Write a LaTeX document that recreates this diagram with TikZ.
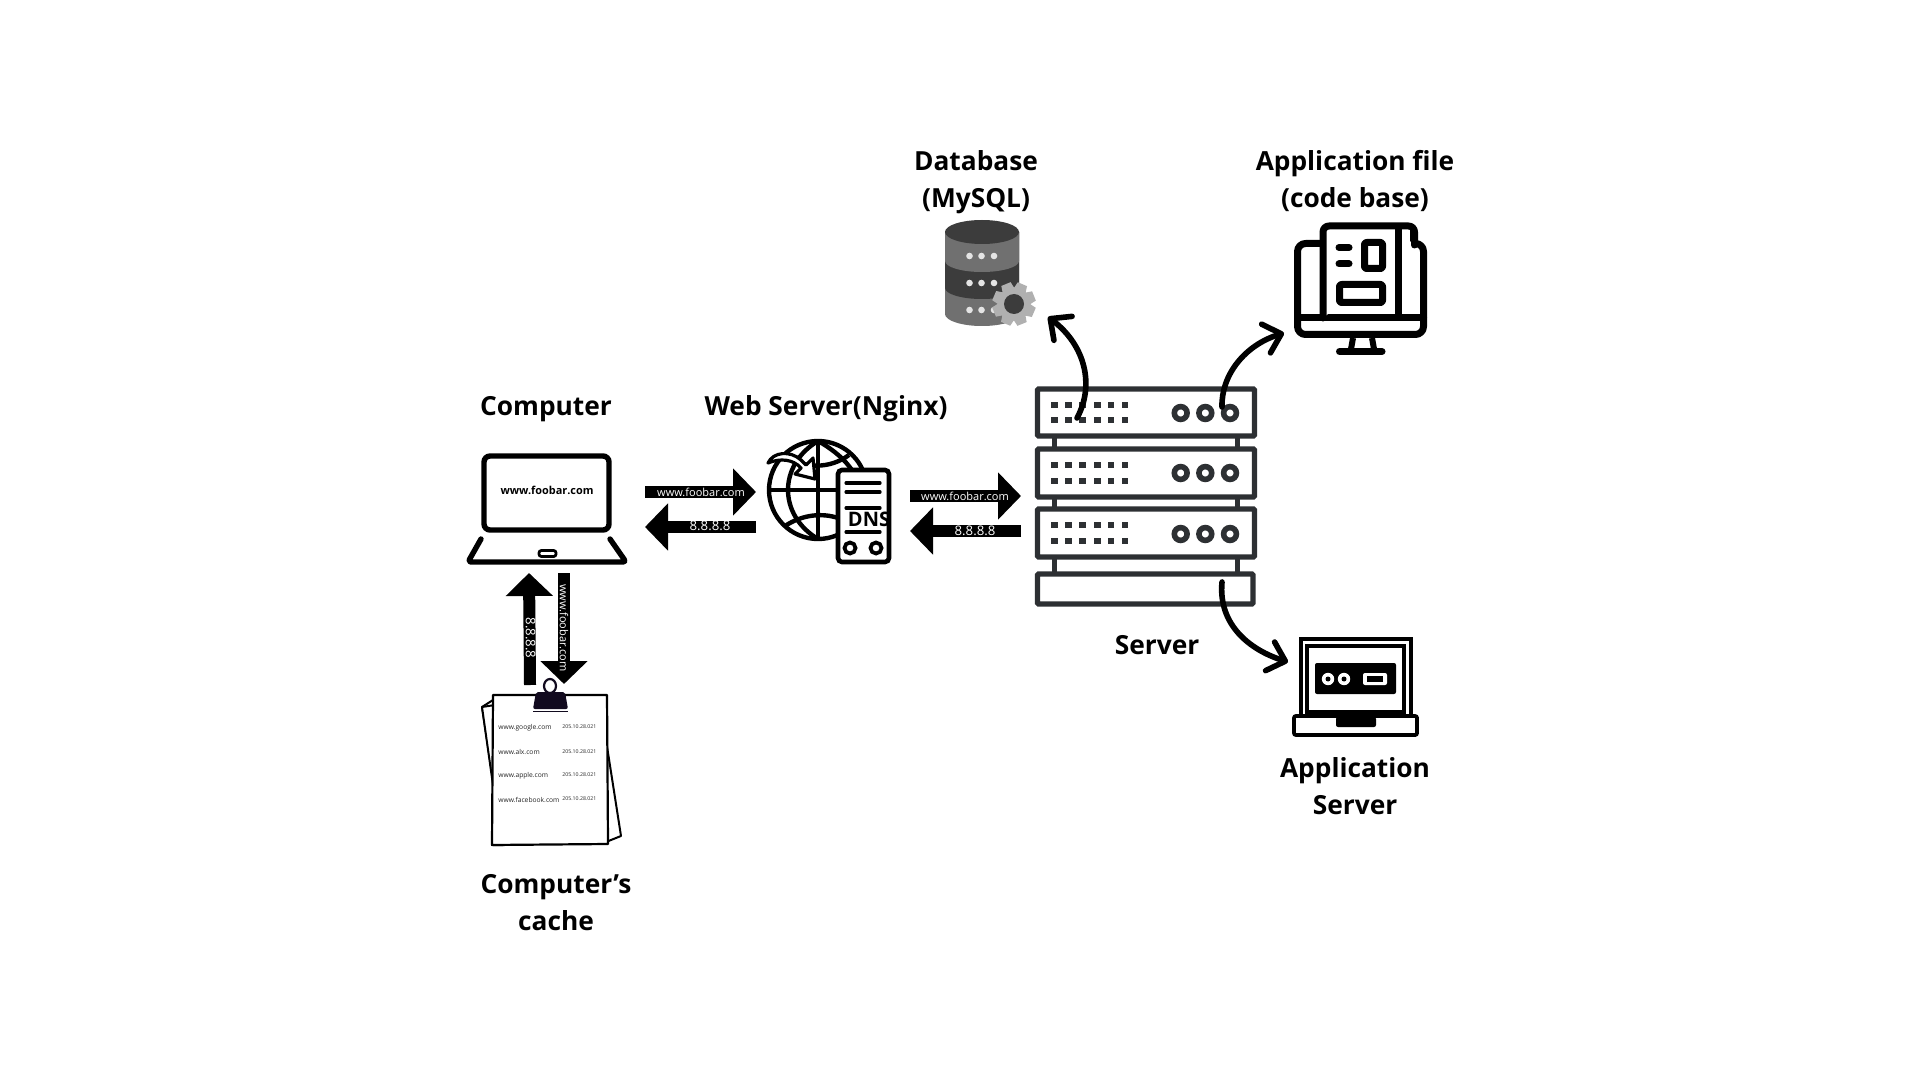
\documentclass[tikz,border=0pt]{standalone}
\usepackage{fontspec}
\setmainfont{Open Sans}
\usetikzlibrary{arrows.meta}
\definecolor{rack}{HTML}{2D3033}
\definecolor{dbl}{HTML}{707070}
\definecolor{dbd}{HTML}{3C3C3C}
\definecolor{dbw}{HTML}{E4E4E4}
\definecolor{gearc}{HTML}{B0B0B0}
\definecolor{clipc}{HTML}{110A1E}
\tikzset{
 x=0.5pt,y=-0.5pt,
 lab/.style={font=\bfseries\fontsize{13.15}{18.4}\selectfont,align=center,text=black,inner sep=0pt},
 fat/.style={line width=6pt,-{Triangle[length=11.5pt,width=23pt]}},
 curv/.style={line width=2.8pt,line cap=round,-{Straight Barb[length=8pt,width=15pt,round]}},
 wtxt/.style={text=white,font=\fontsize{5.5}{6}\selectfont,inner sep=0pt},
 wnum/.style={text=white,font=\fontsize{6.6}{7}\selectfont,inner sep=0pt},
 rackline/.style={draw=rack,line width=2.6pt,rounded corners=0.5pt},
 ico/.style={draw=black,line width=3.5pt,line join=round,line cap=round},
 clabel/.style={font=\fontsize{3.35}{4}\selectfont,text=black!85,inner sep=0pt,anchor=west},
 ip/.style={font=\fontsize{2.6}{3}\selectfont,text=black!85,inner sep=0pt,anchor=west},
}
\begin{document}
\begin{tikzpicture}
\useasboundingbox (0,0) rectangle (1920,1080);
\fill[white] (0,0) rectangle (1920,1080);

% ---- labels
\node[lab] (lcomp) at (546,409) {Computer};
\node[lab] (lweb) at (826,409) {Web Server(Nginx)};
\node[lab] (ldb) at (976,182) {Database\\(MySQL)};
\node[lab] (lfile) at (1355,181) {Application file\\(code base)};
\node[lab] (lsrv) at (1157,645) {Server};
\node[lab] (lapp) at (1355,786.5) {Application\\Server};
\node[lab] (lcache) at (556,902.5) {Computer’s\\cache};

% ---- laptop
\draw[draw=black,line width=2.7pt,rounded corners=3pt] (484,456) rectangle (609,530);
\draw[draw=black,line width=2.7pt,line cap=round,line join=round,rounded corners=1.5pt] (481,539) -- (468,562) -- (626,562) -- (610,539);
\draw[draw=black,line width=1.4pt,rounded corners=1.2pt] (539,550.5) rectangle (556,556.5);
\node[inner sep=0pt,font=\bfseries\fontsize{5.45}{7}\selectfont] (url) at (547,490) {www.foobar.com};
\coordinate (lapR) at (645,492);
\coordinate (lapL) at (645,527);
\coordinate (lapU) at (529,573);
\coordinate (lapD) at (564,573);

% ---- globe
\coordinate (gl) at (818,490);
\begin{scope}[line width=2.2pt,draw=black]
\draw (gl) circle (49);
\draw (818,441) -- (818,539);
\draw (769,490) -- (840,490);
\draw (818,441) .. controls (778,465) and (778,515) .. (818,539);
\draw (818,441) .. controls (843,455) and (853,470) .. (856,478);
\draw (786,456) .. controls (805,469) and (830,469) .. (849,455);
\draw (785,526) .. controls (803,514) and (823,513) .. (838,518);
\end{scope}
\draw[fill=white,draw=black,line width=1.6pt,line join=round] (768,463) .. controls (773,452) and (790,450) .. (801,460) .. controls (804,463) and (805,464) .. (806,465) -- (813,458) -- (815,479) -- (795,474) -- (801,468) .. controls (793,459) and (780,458) .. (768,463) -- cycle;
% DNS box
\draw[fill=white,draw=black,line width=2.3pt,rounded corners=2pt] (838,470) rectangle (889,562);
\foreach \yy in {483,492,508,532} \draw[line width=1.6pt,line cap=round] (846,\yy) -- (880,\yy);
\node[inner sep=0pt,font=\bfseries\fontsize{10}{12}\selectfont] (dns) at (869,519) {DNS};
\draw[line width=1.9pt] (850,548) circle (5.5) (876,548) circle (5.5);
\coordinate (webLR) at (756,492);
\coordinate (webLL) at (756,527);
\coordinate (webRR) at (910,496);
\coordinate (webRL) at (910,531);

% ---- thick arrows
\coordinate (srvR) at (1021,496);
\coordinate (srvL) at (1021,531);
\draw[fat] (lapR) -- (webLR);
\draw[fat] (webLL) -- (lapL);
\draw[fat] (webRR) -- (srvR);
\draw[fat] (srvL) -- (webRL);
\node[wtxt] (a1) at (701,492.5) {www.foobar.com};
\node[wnum] (a2) at (710,526) {8.8.8.8};
\node[wtxt] (a3) at (965,496.5) {www.foobar.com};
\node[wnum] (a4) at (975,531) {8.8.8.8};

% ---- cache page
\coordinate (pgU) at (530,685);
\coordinate (pgD) at (564,684);
\draw[fat] (pgU) -- (lapU);
\draw[fat] (lapD) -- (pgD);
\node[wnum,rotate=-90] (a5) at (530.5,638) {8.8.8.8};
\node[wtxt,rotate=-90] (a6) at (564,628) {www.foobar.com};

\draw[fill=white,draw=black,line width=1pt,line join=round] (482,707) -- (493,700) -- (493,845) -- (503,845) -- cycle;
\draw[fill=white,draw=black,line width=1pt,line join=round] (482,707) -- (493,785) -- (495,705) -- cycle;
\draw[fill=white,draw=black,line width=1pt,line join=round] (606,740) -- (621,836) -- (606,842) -- cycle;
\draw[fill=white,draw=black,line width=1.1pt,line join=round] (493,695) -- (607,695) -- (608,844) -- (492,845) -- cycle;
\draw[line width=1.1pt,draw=clipc] (550,686) ellipse[x radius=6,y radius=7];
\fill[clipc,rounded corners=1pt] (536,692) -- (565,692) -- (568,709) -- (533,709) -- cycle;
\draw[draw=clipc,line width=0.5pt] (533,711) -- (568,711);
\node[clabel] (c1) at (498,728) {www.google.com};
\node[clabel] (c2) at (498,752) {www.alx.com};
\node[clabel] (c3) at (498,776) {www.apple.com};
\node[clabel] (c4) at (498,800) {www.facebook.com};
\node[ip] (i1) at (562,727) {205.10.28.021};
\node[ip] (i2) at (562,752) {205.10.28.021};
\node[ip] (i3) at (562,775) {205.10.28.021};
\node[ip] (i4) at (562,799) {205.10.28.021};

% ---- server rack
\foreach \yy/\hh in {438/447,499/507,559/572}{
 \draw[line width=2.5pt,draw=rack] (1054,\yy) -- (1054,\hh) (1237.5,\yy) -- (1237.5,\hh);}
\foreach \t/\b in {389/436,449/497,509/557}{
 \draw[rackline] (1037.5,\t) rectangle (1254.5,\b);}
\draw[rackline] (1037.5,574) rectangle (1253,604);
\foreach \ya/\yb/\yc in {405/420/413,465/481/473,525/541/534}{
 \foreach \xx in {1054.3,1068.2,1082.1,1097.1,1111,1125}{
  \fill[rack] (\xx-3.4,\ya-3.2) rectangle (\xx+3.4,\ya+3.2);
  \fill[rack] (\xx-3.4,\yb-3.2) rectangle (\xx+3.4,\yb+3.2);}
 \foreach \xx in {1180.7,1205.3,1230}{
  \draw[draw=rack,line width=2.8pt] (\xx,\yc) circle (6.4);}
}
\coordinate (srvA) at (1077,418);
\coordinate (srvB) at (1222,407);
\coordinate (srvC) at (1222,582);

% ---- database
\fill[dbl] (945,232) -- (945,314) arc[start angle=180,end angle=0,x radius=37,y radius=12] -- (1019,232) -- cycle;
\fill[dbd] (945,232) -- (945,288) arc[start angle=180,end angle=0,x radius=37,y radius=11] -- (1019,232) -- cycle;
\fill[dbl] (945,232) -- (945,261) arc[start angle=180,end angle=0,x radius=37,y radius=11] -- (1019,232) -- cycle;
\fill[dbd] (982,232) ellipse[x radius=37,y radius=12];
\foreach \yy in {256,283,310}\foreach \xx in {969.5,981.5,994}\fill[dbw] (\xx,\yy) circle (3.3);
\coordinate (dbG) at (1014,304);
\fill[gearc] (dbG) circle (16.5);
\foreach \a in {0,45,...,315}{
 \fill[gearc,rotate around={\a+22:(dbG)}] (1009,282.5) -- (1019,282.5) -- (1021,293) -- (1007,293) -- cycle;}
\fill[dbd] (dbG) circle (10);
\coordinate (dbT) at (1048,317);

% ---- application file monitor
\draw[ico,fill=white,rounded corners=4pt] (1297.5,243.5) rectangle (1423.5,334.5);
\draw[ico] (1297.5,318) -- (1423.5,318);
\draw[ico,fill=white,rounded corners=3pt] (1323,318) -- (1323,226) -- (1414.5,226) -- (1414.5,245);
\draw[ico,line cap=butt] (1398.5,226) -- (1398.5,318);
\draw[ico,line cap=butt,line width=1pt,fill=black] (1411,229) -- (1415,229) -- (1415,241) -- (1411,241) -- cycle;
\draw[ico,line cap=round] (1339,247.5) -- (1349,247.5) (1339,264) -- (1349,264);
\draw[ico,rounded corners=1pt] (1364.5,242.5) rectangle (1382.5,268.5);
\draw[ico,rounded corners=1pt] (1339.5,284.5) rectangle (1382.5,302.5);
\draw[ico,line cap=butt,line width=3pt] (1353,338) -- (1351,349) (1372,338) -- (1374,349);
\draw[ico,line cap=round] (1339.5,351.5) -- (1382,351.5);
\coordinate (fileT) at (1284,333);

% ---- application server laptop
\draw[draw=black,line width=1.8pt] (1301,639) rectangle (1411,717);
\draw[draw=black,line width=2pt] (1307,646) rectangle (1404,712);
\fill[black,rounded corners=1pt] (1315,663) rectangle (1396,694);
\fill[white] (1328,679) circle (6.2) (1344,679) circle (6.2);
\fill[black] (1328,679) circle (2.5) (1344,679) circle (2.5);
\fill[white,rounded corners=1pt] (1363,673) rectangle (1387,685);
\fill[black] (1367,676) rectangle (1383,682);
\draw[draw=black,line width=1.9pt,fill=white,rounded corners=1pt] (1294,716) rectangle (1417,735);
\fill[black,rounded corners=1pt] (1336,717) rectangle (1376,727);
\coordinate (appT) at (1288,662);

% ---- curved connectors
\draw[curv] (srvA) .. controls (1095,385) and (1085,345) .. (dbT);
\draw[curv] (srvB) .. controls (1221,375) and (1245,345) .. (fileT);
\draw[curv] (srvC) .. controls (1218,625) and (1250,650) .. (appT);
\end{tikzpicture}
\end{document}
